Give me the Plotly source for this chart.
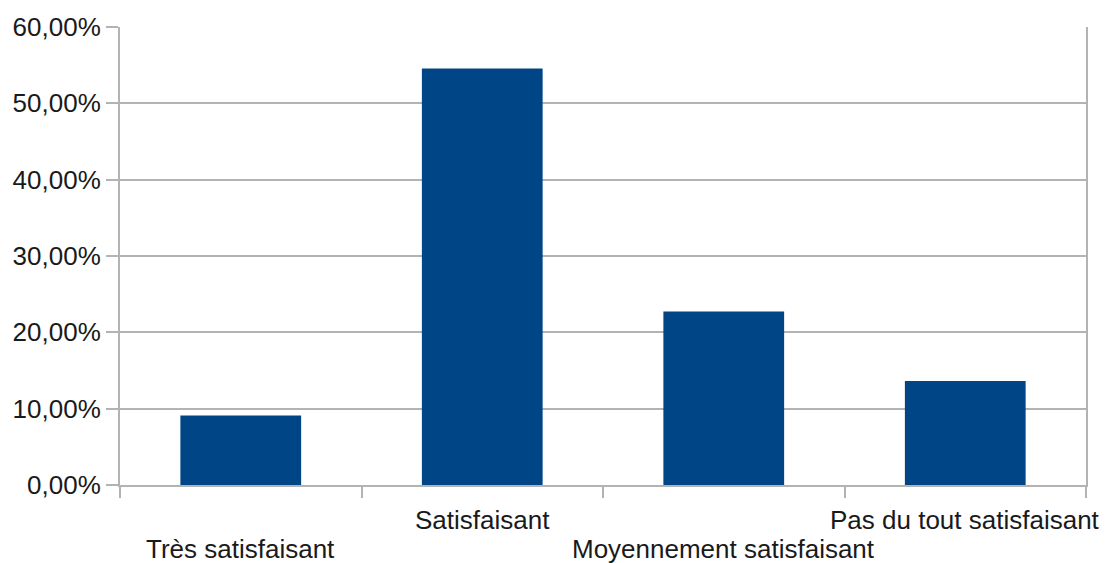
import plotly.graph_objects as go

categories = ["Très satisfaisant", "Satisfaisant", "Moyennement satisfaisant", "Pas du tout satisfaisant"]
values = [0.0909, 0.5455, 0.2273, 0.1364]
y_ticks = [0, 0.1, 0.2, 0.3, 0.4, 0.5, 0.6]

FONT = "Liberation Sans, Arial, sans-serif"
GRID = "#b3b3b3"
TXT = "#1a1a1a"

fig = go.Figure()
fig.add_trace(go.Bar(
    x=list(range(len(categories))), y=values,
    marker=dict(color="#004586", line=dict(width=0)),
    width=0.5, showlegend=False, hoverinfo="skip",
))

for i, lab in enumerate(categories):
    fig.add_annotation(
        x=i, xref="x", y=0, yref="paper", text=lab, showarrow=False,
        yanchor="middle", xanchor="center",
        yshift=-35 if i % 2 == 1 else -64,
        font=dict(family=FONT, size=26, color=TXT),
    )

fig.update_layout(
    width=1100, height=555,
    margin=dict(l=112, r=22, t=19, b=78, autoexpand=False),
    paper_bgcolor="white", plot_bgcolor="white",
    separators=", ",
    font=dict(family=FONT, size=26, color=TXT),
    bargap=0.5,
)
fig.update_xaxes(
    range=[-0.5, 3.5],
    tickmode="array",
    tickvals=[-0.5, 0.5, 1.5, 2.5, 3.5],
    ticktext=["", "", "", "", ""],
    ticks="outside", ticklen=11, tickwidth=2, tickcolor=GRID,
    showgrid=False, zeroline=False, automargin=False,
    showline=True, linecolor=GRID, linewidth=2,
)
fig.update_yaxes(
    range=[0, 0.6],
    tickmode="array", tickvals=y_ticks,
    tickformat=".2%",
    ticks="outside", ticklen=12, tickwidth=2, tickcolor=GRID,
    showgrid=True, gridcolor=GRID, gridwidth=2,
    zeroline=False, automargin=False,
    showline=True, linecolor=GRID, linewidth=2, mirror=True,
    tickfont=dict(family=FONT, size=26, color=TXT),
)

fig.write_html("out.html")
